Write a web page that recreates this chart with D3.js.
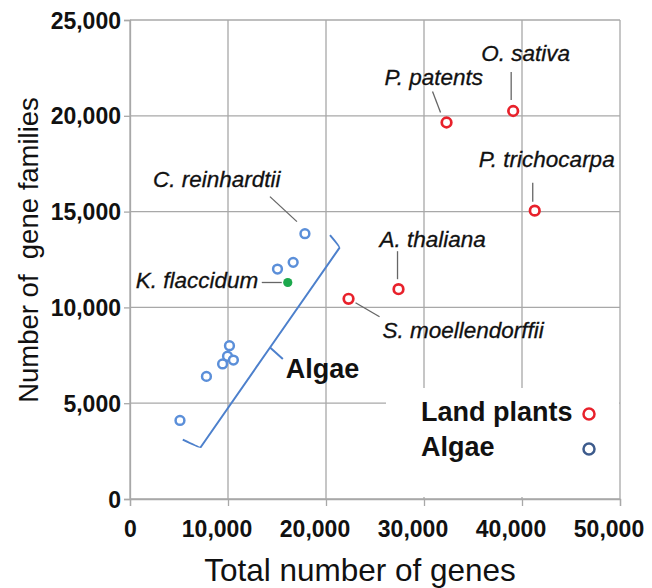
<!DOCTYPE html>
<html>
<head>
<meta charset="utf-8">
<script src="https://cdn.jsdelivr.net/npm/d3@7"></script>
<style>
  body { margin: 0; background: #fff; }
  text { font-family: "Liberation Sans", Arial, sans-serif; }
</style>
</head>
<body>
<svg width="652" height="588"></svg>
<script>
// data
var landNames = ["P. patents", "O. sativa", "P. trichocarpa", "A. thaliana", "S. moellendorffii"];
var landGenes = [32300, 39100, 41300, 27400, 22300];
var landFamilies = [19650, 20250, 15050, 10950, 10450];

var algaeNames = ["C. reinhardtii", "", "", "", "", "", "", "", ""];
var algaeGenes = [17850, 16650, 15050, 10150, 9950, 9450, 10550, 7800, 5100];
var algaeFamilies = [13850, 12350, 12000, 8000, 7450, 7050, 7250, 6400, 4100];

var kfName = "K. flaccidum";
var kfGenes = [16100];
var kfFamilies = [11300];

var xTicks = [0, 10000, 20000, 30000, 40000, 50000];
var yTicks = [0, 5000, 10000, 15000, 20000, 25000];

// bracket ends (data coords) around the algae
var braceTop = [21430, 13150], braceBottom = [7150, 2660];

// label placement relative to the point: text dx,dy and leader from/to
var labelPos = {
	"P. patents": {dx: -62, dy: -38, l: [-14, -31, -6, -10]},
	"O. sativa": {dx: -32, dy: -50, l: [-2, -39, -2, -11]},
	"P. trichocarpa": {dx: -56, dy: -44, l: [-2, -28, -2, -9]},
	"A. thaliana": {dx: -19, dy: -42, l: [-1, -38, -1, -10]},
	"S. moellendorffii": {dx: 34, dy: 39, l: [7, 4, 31, 18]},
	"C. reinhardtii": {dx: -152, dy: -47, l: [-35, -37, -8, -12]},
	"K. flaccidum": {dx: -152, dy: 6, l: [-26, 0, -6, 0]}
};

function drawPlot() {
	var svg = d3.select("svg");
	var x = d3.scaleLinear().domain([0, 50000]).range([130, 620]);
	var y = d3.scaleLinear().domain([0, 25000]).range([499, 20]);
	var gridCol = "#a8a8a8";

	// grid + frame
	var grid = svg.append("g");
	grid.selectAll("line.v").data(xTicks).enter().append("line")
		.attr("x1", d => x(d)).attr("x2", d => x(d))
		.attr("y1", y(25000)).attr("y2", y(0))
		.attr("stroke", gridCol).attr("stroke-width", 1.3);
	grid.selectAll("line.h").data(yTicks).enter().append("line")
		.attr("x1", x(0)).attr("x2", x(50000))
		.attr("y1", d => y(d)).attr("y2", d => y(d))
		.attr("stroke", gridCol).attr("stroke-width", 1.3);

	// white legend box sitting over the grid
	svg.append("rect")
		.attr("x", 386).attr("y", 388).attr("width", 233).attr("height", 109)
		.attr("fill", "#fff");

	// axes
	var ax = svg.append("g")
		.attr("transform", "translate(0," + y(0) + ")")
		.call(d3.axisBottom(x).tickValues(xTicks).tickSize(7).tickPadding(15).tickFormat(d3.format(",")));
	ax.selectAll("text").attr("dx", d => d === 0 ? 0 : -11.5);
	var ay = svg.append("g")
		.attr("transform", "translate(" + x(0) + ",0)")
		.call(d3.axisLeft(y).tickValues(yTicks).tickSize(6).tickPadding(3).tickFormat(d3.format(",")));
	[ax, ay].forEach(function(a) {
		a.select(".domain").attr("stroke", gridCol).attr("stroke-width", 1.3);
		a.selectAll(".tick line").attr("stroke", gridCol).attr("stroke-width", 1.3);
		a.selectAll("text").attr("fill", "#111")
			.style("font-size", "23px").style("font-weight", "bold")
			.style("font-family", "'Liberation Sans', Arial, sans-serif");
	});
	ay.selectAll("text").attr("dy", "0.35em");

	// axis titles
	svg.append("text")
		.attr("x", 360).attr("y", 581).attr("text-anchor", "middle")
		.style("font-size", "31.5px").attr("fill", "#111")
		.text("Total number of genes");
	svg.append("text")
		.attr("transform", "translate(38,250)rotate(-90)")
		.attr("text-anchor", "middle")
		.style("font-size", "27.5px").attr("fill", "#111")
		.style("white-space", "pre")
		.text("Number of  gene families");

	// algae bracket
	var p1 = [x(braceTop[0]), y(braceTop[1])], p2 = [x(braceBottom[0]), y(braceBottom[1])];
	var len = Math.hypot(p2[0] - p1[0], p2[1] - p1[1]);
	var u = [(p2[0] - p1[0]) / len, (p2[1] - p1[1]) / len];
	var n = [-u[1], u[0]];
	if (n[0] > 0) n = [-n[0], -n[1]];
	var mid = [(p1[0] + p2[0]) / 2, (p1[1] + p2[1]) / 2];
	function pt(p, a, b) { return [p[0] + a * u[0] + b * n[0], p[1] + a * u[1] + b * n[1]]; }
	var path = d3.path();
	var a0 = pt(p1, -4, 15); path.moveTo(a0[0], a0[1]);
	var c0 = pt(p1, 1, 0); path.quadraticCurveTo(p1[0], p1[1], c0[0], c0[1]);
	path.lineTo(mid[0], mid[1]);
	var pr = pt(mid, 2, -17); path.lineTo(pr[0], pr[1]);
	path.moveTo(mid[0], mid[1]);
	var c1 = pt(p2, -1, 0); path.lineTo(c1[0], c1[1]);
	var b0 = pt(p2, 3, 19); path.quadraticCurveTo(p2[0], p2[1], b0[0], b0[1]);
	svg.append("path").attr("d", path.toString())
		.attr("fill", "none").attr("stroke", "#4d80cc").attr("stroke-width", 2)
		.attr("stroke-linejoin", "round");
	svg.append("text")
		.attr("x", pr[0] + 3).attr("y", pr[1] + 19)
		.style("font-size", "27px").style("font-weight", "bold").attr("fill", "#111")
		.text("Algae");

	// leaders + labels
	var labels = [];
	landNames.forEach((d, i) => labels.push({name: d, gx: landGenes[i], gy: landFamilies[i]}));
	algaeNames.forEach((d, i) => { if (d) labels.push({name: d, gx: algaeGenes[i], gy: algaeFamilies[i]}); });
	labels.push({name: kfName, gx: kfGenes[0], gy: kfFamilies[0]});
	var lab = svg.append("g");
	lab.selectAll("line").data(labels).enter().append("line")
		.attr("x1", d => x(d.gx) + labelPos[d.name].l[0])
		.attr("y1", d => y(d.gy) + labelPos[d.name].l[1])
		.attr("x2", d => x(d.gx) + labelPos[d.name].l[2])
		.attr("y2", d => y(d.gy) + labelPos[d.name].l[3])
		.attr("stroke", "#666").attr("stroke-width", 1.3);
	lab.selectAll("text").data(labels).enter().append("text")
		.attr("x", d => x(d.gx) + labelPos[d.name].dx)
		.attr("y", d => y(d.gy) + labelPos[d.name].dy)
		.style("font-size", "22.5px").style("font-style", "italic").attr("fill", "#111")
		.attr("stroke", "#111").attr("stroke-width", 0.3)
		.text(d => d.name);

	// points
	svg.append("g").selectAll("circle").data(algaeGenes).enter().append("circle")
		.attr("cx", d => x(d)).attr("cy", (d, i) => y(algaeFamilies[i]))
		.attr("r", 4.4).attr("fill", "#fff").attr("stroke", "#5b8fd9").attr("stroke-width", 2.5);
	svg.append("g").selectAll("circle").data(landGenes).enter().append("circle")
		.attr("cx", d => x(d)).attr("cy", (d, i) => y(landFamilies[i]))
		.attr("r", 4.8).attr("fill", "#fff").attr("stroke", "#e8212b").attr("stroke-width", 2.7);
	svg.append("g").selectAll("circle").data(kfGenes).enter().append("circle")
		.attr("cx", d => x(d)).attr("cy", (d, i) => y(kfFamilies[i]))
		.attr("r", 4.6).attr("fill", "#1ca84c");

	// legend
	var leg = svg.append("g");
	leg.append("text").attr("x", 421).attr("y", 421)
		.style("font-size", "27px").style("font-weight", "bold").attr("fill", "#111")
		.text("Land plants");
	leg.append("text").attr("x", 421).attr("y", 456)
		.style("font-size", "27px").style("font-weight", "bold").attr("fill", "#111")
		.text("Algae");
	leg.append("circle").attr("cx", 589).attr("cy", 414).attr("r", 5.5)
		.attr("fill", "none").attr("stroke", "#e8212b").attr("stroke-width", 2.5);
	leg.append("circle").attr("cx", 589).attr("cy", 449).attr("r", 5.5)
		.attr("fill", "none").attr("stroke", "#3d5b8c").attr("stroke-width", 2.5);
}
drawPlot();
</script>
</body>
</html>
